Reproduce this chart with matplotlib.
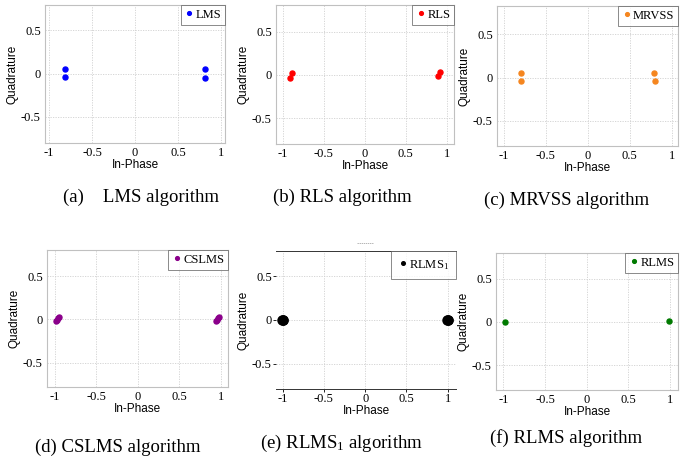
import matplotlib
matplotlib.use('Agg')
import matplotlib.pyplot as plt
from matplotlib.lines import Line2D

# data
lms_i = [-0.81, -0.81, 0.81, 0.81]
lms_q = [0.05, -0.04, 0.05, -0.05]

rls_i = [-0.91, -0.89, 0.89, 0.915]
rls_q = [-0.03, 0.02, -0.015, 0.035]

mrvss_i = [-0.80, -0.79, 0.79, 0.80]
mrvss_q = [0.053, -0.035, 0.05, -0.043]

cslms_i = [-0.984, -0.97, -0.958, -0.948, 0.943, 0.955, 0.968, 0.98]
cslms_q = [-0.02, -0.005, 0.012, 0.027, -0.02, -0.005, 0.012, 0.027]

rlms1_i = [-1.0, -0.995, -1.005, 1.0, 0.995, 1.005]
rlms1_q = [0.0, 0.005, -0.005, 0.0, 0.005, -0.005]

rlms_i = [-0.985, 0.99]
rlms_q = [0.0, 0.008]

x_ticks = [-1, -0.5, 0, 0.5, 1]
x_ticklabels = ['-1', '-0.5', '0', '0.5', '1']
y_ticks = [-0.5, 0, 0.5]
y_ticklabels = ['-0.5', '0', '0.5']

W, H = 697, 459
fig = plt.figure(figsize=(W / 100, H / 100), dpi=100)

SERIF = 'Liberation Serif'
SANS = 'Liberation Sans'
plt.rcParams['mathtext.fontset'] = 'custom'
plt.rcParams['mathtext.rm'] = SERIF
plt.rcParams['mathtext.it'] = SERIF + ':italic'


def add_ax(x0, x1, y0, y1):
    # pixel box (top-left origin) -> figure fraction
    return fig.add_axes([x0 / W, 1 - y1 / H, (x1 - x0) / W, (y1 - y0) / H])


def setup(ax, xi, yq, color, label, xlim, ylim, ms=3.6, panel_e=False):
    ax.plot(xi, yq, 'o', color=color, ms=ms, mec=color, label=label, linestyle='none')
    ax.set_xlim(*xlim)
    ax.set_ylim(*ylim)
    ax.set_xticks(x_ticks)
    ax.set_xticklabels(x_ticklabels, family=SERIF, fontsize=9)
    ax.set_yticks(y_ticks)
    ax.set_yticklabels(y_ticklabels, family=SERIF, fontsize=9)
    ax.grid(True, color='#d0d0d0', linestyle=(0, (1.5, 1.5)), linewidth=0.6)
    ax.set_axisbelow(True)
    ax.set_xlabel('In-Phase', family=SANS, fontsize=8.5, labelpad=0)
    ax.set_ylabel('Quadrature', family=SANS, fontsize=8.5, labelpad=2)
    if panel_e:
        ax.tick_params(length=2, width=0.6, pad=1, direction='out')
        for s in ['left', 'right']:
            ax.spines[s].set_visible(False)
        for s in ['top', 'bottom']:
            ax.spines[s].set_color('#333333')
            ax.spines[s].set_linewidth(0.7)
    else:
        ax.tick_params(length=0, pad=3)
        for s in ax.spines.values():
            s.set_color('#c0c0c0')
            s.set_linewidth(0.8)
    leg = ax.legend(loc='upper right', borderaxespad=0, fancybox=False,
                    prop={'family': SERIF, 'size': 9}, handletextpad=0.1,
                    handlelength=0.8, borderpad=0.3 if not panel_e else 0.55,
                    markerscale=0.75 if not panel_e else 0.4)
    leg.get_frame().set_edgecolor('#555555')
    leg.get_frame().set_linewidth(0.6)
    return ax


ax = add_ax(45, 225, 5, 143)
setup(ax, lms_i, lms_q, '#0000ff', 'LMS', (-1.047, 1.047), (-0.8, 0.79))

ax = add_ax(276, 454, 5, 144)
setup(ax, rls_i, rls_q, '#ff0000', 'RLS', (-1.08, 1.09), (-0.8, 0.81))

ax = add_ax(497, 678, 6, 146)
setup(ax, mrvss_i, mrvss_q, '#f5861f', 'MRVSS', (-1.08, 1.075), (-0.79, 0.825))

ax = add_ax(47, 228, 250, 387)
setup(ax, cslms_i, cslms_q, '#8b008b', 'CSLMS', (-1.096, 1.09), (-0.78, 0.8))

ax = add_ax(276, 456, 251, 389)
setup(ax, rlms1_i, rlms1_q, '#000000', r'RLMS$_{\mathregular{1}}$', (-1.08, 1.10),
      (-0.79, 0.79), ms=6.5, panel_e=True)

ax = add_ax(496, 678, 253, 390)
setup(ax, rlms_i, rlms_q, '#007a00', 'RLMS', (-1.09, 1.10), (-0.79, 0.8))

# tiny dash above panel (e)
fig.add_artist(Line2D([357 / W, 373 / W], [1 - 243 / H, 1 - 243 / H],
                      color='#999999', lw=0.5, linestyle=(0, (2, 1))))

captions = ['(a)    LMS algorithm', '(b) RLS algorithm', '(c) MRVSS algorithm',
            '(d) CSLMS algorithm', r'(e) RLMS$_{\mathregular{1}}$ algorithm',
            '(f) RLMS algorithm']
cap_x = [141, 342, 567, 118, 342, 566]
cap_y = [197, 197, 200, 447, 443, 438]
for txt, cx, cy in zip(captions, cap_x, cap_y):
    fig.text(cx / W, 1 - cy / H, txt, ha='center', va='center',
             family=SERIF, fontsize=13.5)

fig.savefig('out.png', dpi=100)
